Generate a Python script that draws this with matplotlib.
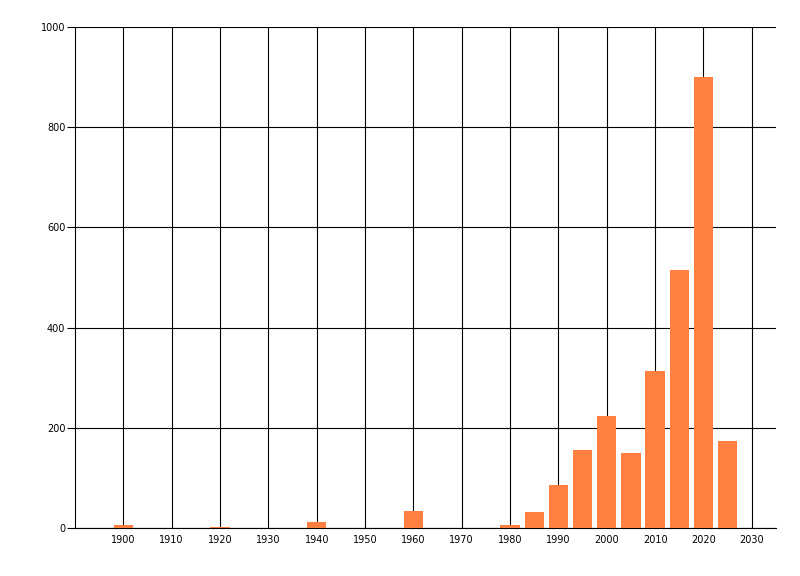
import matplotlib
matplotlib.use("Agg")
import matplotlib.pyplot as plt

# bar centres (years) and counts
years = [1900, 1920, 1940, 1960, 1980, 1985, 1990, 1995, 2000, 2005, 2010, 2015, 2020, 2025]
counts = [6, 2, 12, 34, 6, 32, 86, 156, 224, 150, 313, 515, 900, 174]
xticks = list(range(1900, 2031, 10))
yticks = [0, 200, 400, 600, 800, 1000]

fig = plt.figure(figsize=(8, 5.76), dpi=100)
ax = fig.add_axes([75 / 800, 1 - 528 / 576, (776 - 75) / 800, (528 - 27) / 576])

ax.bar(years, counts, width=4, color="#ff8040", zorder=3)

ax.set_xlim(1890, 2035)
ax.set_ylim(0, 1000)
ax.set_xticks(xticks)
ax.set_yticks(yticks)
ax.grid(True, color="black", linewidth=0.8)
ax.set_axisbelow(True)

for side in ["top", "right"]:
    ax.spines[side].set_visible(False)
for side in ["left", "bottom"]:
    ax.spines[side].set_linewidth(0.8)
    ax.spines[side].set_color("black")

ax.tick_params(axis="x", length=0, pad=5, labelsize=7)
ax.tick_params(axis="y", length=6, width=0.8, pad=1, labelsize=7)

fig.savefig("out.png", dpi=100)
